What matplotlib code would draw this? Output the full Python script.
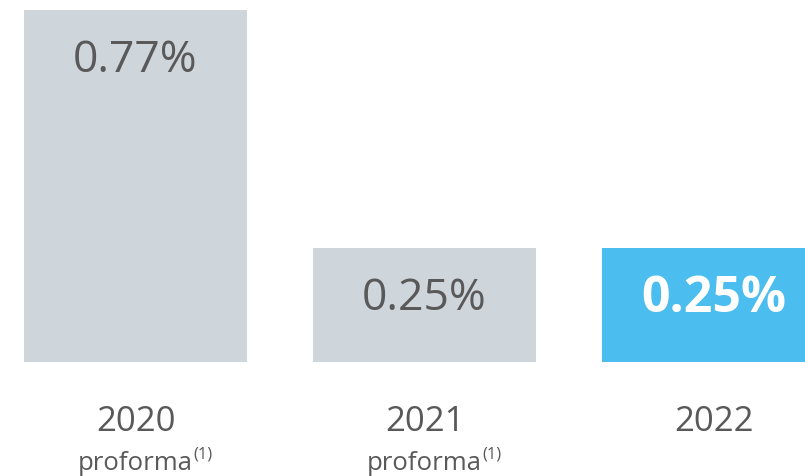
import matplotlib
matplotlib.use("Agg")
import matplotlib.pyplot as plt

years = ["2020", "2021", "2022"]
subtitles = ["proforma", "proforma", ""]
values = [0.77, 0.25, 0.25]
labels = ["0.77%", "0.25%", "0.25%"]
bar_colors = ["#CED5DB", "#CED5DB", "#4BBDEE"]
label_colors = ["#595959", "#595959", "#FFFFFF"]
label_weights = ["normal", "normal", "bold"]
label_sizes = [32, 32, 36]

plt.rcParams['font.family'] = ['Open Sans', 'DejaVu Sans']

W, H = 805, 477
fig = plt.figure(figsize=(W / 100, H / 100), dpi=100)
ax = fig.add_axes([0, 114 / H, 1, 363 / H])
x = list(range(len(values)))
ax.bar(x, values, width=223 / 289, color=bar_colors, linewidth=0)
ax.set_xlim(-135.5 / 289, (805 - 135.5) / 289)
ax.set_ylim(0, 363 / (352 / 0.77))
ax.axis("off")

for xi, v, lab, c, w, s in zip(x, values, labels, label_colors, label_weights, label_sizes):
    ax.annotate(lab, (xi, v), xytext=(0, -36), textcoords="offset points",
                ha="center", va="center", fontsize=s, color=c, fontweight=w)

fig.canvas.draw()
r = fig.canvas.get_renderer()
for xi, yr, sub in zip(x, years, subtitles):
    ax.annotate(yr, (xi, 0), xytext=(0, -42.5), textcoords="offset points",
                ha="center", va="center", fontsize=25, color="#595959",
                annotation_clip=False)
    if sub:
        t = ax.annotate(sub, (xi, 0), xytext=(0, -72.5), textcoords="offset points",
                        ha="center", va="center", fontsize=18.5, color="#595959",
                        annotation_clip=False)
        fig.canvas.draw()
        bb = t.get_window_extent(r)
        fig.text(bb.x1 / W, (bb.y0 + bb.height * 0.55) / H, "(1)",
                 fontsize=12, color="#595959", ha="left", va="bottom")

fig.savefig("out.png", dpi=100)
